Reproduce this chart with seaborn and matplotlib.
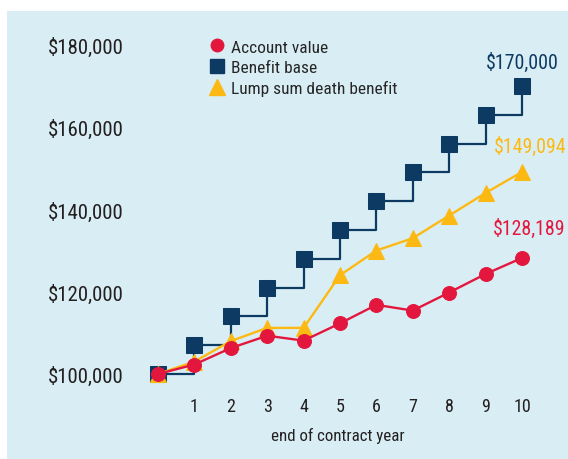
import matplotlib
matplotlib.use("Agg")
import matplotlib.pyplot as plt
from matplotlib.patches import Rectangle
import pandas as pd
import seaborn as sns

# data
years = [0, 1, 2, 3, 4, 5, 6, 7, 8, 9, 10]
account_value = [100000, 102300, 106300, 109300, 108100, 112300, 116800, 115400, 119800, 124300, 128189]
benefit_base = [100000, 107000, 114000, 121000, 128000, 135000, 142000, 149000, 156000, 163000, 170000]
lump_sum = [100000, 103000, 108000, 111200, 111200, 124000, 130000, 133000, 138500, 144000, 149094]
y_ticks = [100000, 120000, 140000, 160000, 180000]
x_ticks = [1, 2, 3, 4, 5, 6, 7, 8, 9, 10]

red = "#E3173E"
navy = "#0D3A63"
gold = "#FDB913"
bg = "#D9EEF4"
txt = "#231F20"

sns.set_theme(style="white")
plt.rcParams["font.family"] = ["Roboto Condensed", "Liberation Sans Narrow", "Roboto", "DejaVu Sans"]
plt.rcParams["font.stretch"] = "condensed"

df = pd.DataFrame({"year": years, "acct": account_value, "base": benefit_base, "lump": lump_sum})

fig = plt.figure(figsize=(5.68, 4.6), dpi=100, facecolor="white")
fig.patches.append(Rectangle((7 / 568, 0), 561 / 568, 448 / 460, transform=fig.transFigure,
                             facecolor=bg, edgecolor="none", zorder=-1))
ax = fig.add_axes([0.259, 0.158, 0.6984, 0.7693])
ax.set_facecolor("none")

sns.lineplot(data=df, x="year", y="base", ax=ax, color=navy, linewidth=1.6, marker="s",
             markersize=11, markeredgecolor=navy, drawstyle="steps-post", zorder=2,
             label="Benefit base")
sns.lineplot(data=df, x="year", y="lump", ax=ax, color=gold, linewidth=1.7, marker="^",
             markersize=12, markeredgecolor=gold, zorder=3, label="Lump sum death benefit")
sns.lineplot(data=df, x="year", y="acct", ax=ax, color=red, linewidth=1.7, marker="o",
             markersize=10, markeredgecolor=red, zorder=4, label="Account value")

ax.set_xlim(-0.3, 10.6)
ax.set_ylim(97000, 183000)
ax.set_xticks(x_ticks)
ax.set_xticklabels([str(v) for v in x_ticks], fontsize=13, color=txt)
ax.set_yticks(y_ticks)
ax.set_yticklabels([f"${v:,.0f}" for v in y_ticks], fontsize=15, color=txt)
ax.tick_params(axis="y", length=0, pad=17)
ax.tick_params(axis="x", length=0, pad=8)
sns.despine(ax=ax, left=True, bottom=True)
ax.set_ylabel("")
ax.set_xlabel("end of contract year", fontsize=12.2, color=txt)
ax.xaxis.set_label_coords(0.48, -0.115)

# legend: markers only
handles, labels = ax.get_legend_handles_labels()
order = [2, 0, 1]
leg_handles = []
for i, ms in zip(order, [9, 9.5, 11]):
    h = handles[i]
    leg_handles.append(plt.Line2D([], [], linestyle="none", marker=h.get_marker(),
                                  color=h.get_color(), markersize=ms))
ax.legend(leg_handles, [labels[i] for i in order], loc="upper left",
          bbox_to_anchor=(0.138, 1.0), frameon=False, fontsize=12.5, handletextpad=0.3,
          labelspacing=0.3, handlelength=1.0, borderaxespad=0)

# end labels
ax.annotate("$170,000", (years[-1], benefit_base[-1]), xytext=(0, 17), textcoords="offset points",
            ha="center", va="center", fontsize=14.3, color=navy)
ax.annotate("$149,094", (years[-1], lump_sum[-1]), xytext=(6, 19), textcoords="offset points",
            ha="center", va="center", fontsize=14.3, color=gold)
ax.annotate("$128,189", (years[-1], account_value[-1]), xytext=(5, 22), textcoords="offset points",
            ha="center", va="center", fontsize=14.3, color=red)

fig.savefig("out.png", dpi=100, facecolor="white")
